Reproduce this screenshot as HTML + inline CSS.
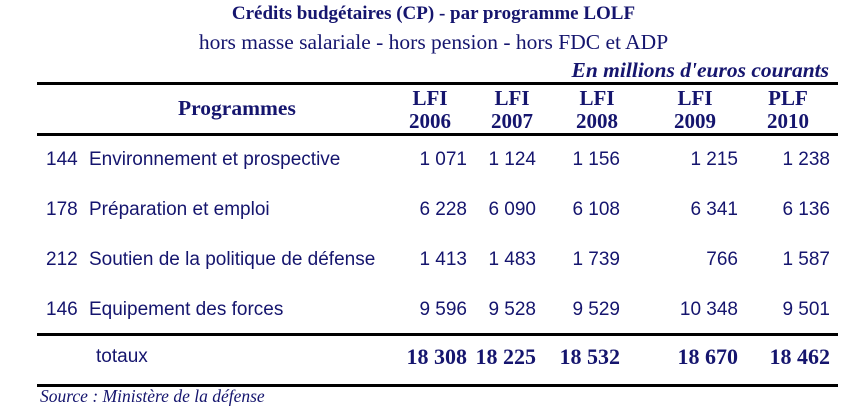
<!DOCTYPE html>
<html><head><meta charset="utf-8"><style>
body{margin:0;width:867px;height:413px;background:#fff;position:relative;overflow:hidden;color:#15156e}
div{position:absolute;white-space:nowrap}
.s{font-family:"Liberation Serif",serif}
.a{font-family:"Liberation Sans",sans-serif;font-size:19px}
.b{font-family:"Liberation Serif",serif;font-weight:bold;font-size:21px}
.t{font-family:"Liberation Serif",serif;font-weight:bold;font-size:22px}
.r{text-align:right}
.c{text-align:center}
.ln{background:#000;left:37px;width:801px;height:3px}
</style></head><body>
<div class="s" style="left:0;width:867px;top:3px;text-align:center;font-weight:bold;font-size:19px">Crédits budgétaires (CP) - par programme LOLF</div>
<div class="s" style="left:0;width:867px;top:30px;text-align:center;font-size:21.5px">hors masse salariale - hors pension - hors FDC et ADP</div>
<div class="s r" style="right:38px;top:58px;font-style:italic;font-weight:bold;font-size:21.5px">En millions d'euros courants</div>
<div class="ln" style="top:82px"></div>
<div class="ln" style="top:133px"></div>
<div class="ln" style="top:333px"></div>
<div class="ln" style="top:384px"></div>
<div class="s" style="left:178px;top:96px;font-weight:bold;font-size:21.5px">Programmes</div>
<div class="a" style="left:96px;top:346px">totaux</div>
<div class="s" style="left:40px;top:386px;font-style:italic;font-size:17.5px">Source :  Ministère de la défense</div>
<script>
const heads1=["LFI","LFI","LFI","LFI","PLF"];
const heads2=["2006","2007","2008","2009","2010"];
const codes=["144","178","212","146"];
const names=["Environnement et prospective","Préparation et emploi","Soutien de la politique de défense","Equipement des forces"];
const values=[["1 071","1 124","1 156","1 215","1 238"],["6 228","6 090","6 108","6 341","6 136"],["1 413","1 483","1 739","766","1 587"],["9 596","9 528","9 529","10 348","9 501"]];
const totals=["18 308","18 225","18 532","18 670","18 462"];
const rights=[467,536,620,738,830];
const centers=[430,512,597,695,788];
const rowTop=[149,199,249,299];
function mk(cls,txt,style){const d=document.createElement('div');d.className=cls;d.textContent=txt;d.style.cssText=style;document.body.appendChild(d);return d;}
heads1.forEach((h,i)=>{
 let d=mk('b c',h,`left:${centers[i]-40}px;width:80px;top:86px`);
 
 
 d=mk('b c',heads2[i],`left:${centers[i]-40}px;width:80px;top:109px`);
 
 
});
codes.forEach((c,r)=>{
 let d=mk('a',c,`left:46px;top:${rowTop[r]}px`);
 
 
 d=mk('a',names[r],`left:89px;top:${rowTop[r]}px`);
 
 
 values[r].forEach((v,i)=>{
  const e=mk('a r',v,`right:${867-rights[i]}px;top:${rowTop[r]}px`);
  
  
 });
});
totals.forEach((v,i)=>{
 const e=mk('t r',v,`right:${867-rights[i]}px;top:344px`);
 
 
});
</script>
</body></html>
